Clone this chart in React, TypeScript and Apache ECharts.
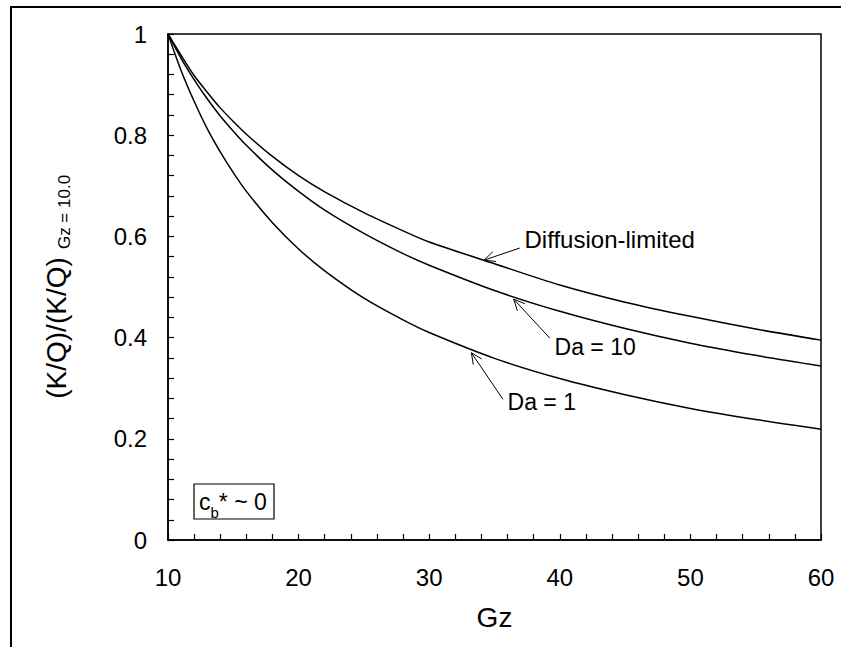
import React, { useEffect, useRef } from "react";
import * as echarts from "echarts";

const gz = [10, 11, 12, 13, 14, 15, 16, 18, 20, 22, 25, 28, 30, 35, 40, 45, 50, 55, 60];
const diffusionLimited = [1.0, 0.958, 0.918, 0.885, 0.854, 0.827, 0.802, 0.758, 0.72, 0.688, 0.647, 0.611, 0.589, 0.546, 0.504, 0.47, 0.442, 0.417, 0.395];
const da10 = [1.0, 0.952, 0.91, 0.872, 0.838, 0.808, 0.78, 0.731, 0.689, 0.652, 0.606, 0.566, 0.543, 0.493, 0.452, 0.418, 0.389, 0.365, 0.344];
const da1 = [1.0, 0.928, 0.867, 0.813, 0.767, 0.726, 0.689, 0.627, 0.575, 0.532, 0.478, 0.435, 0.41, 0.359, 0.319, 0.287, 0.26, 0.238, 0.219];

const xTickValues = [10, 20, 30, 40, 50, 60];
const yTickValues = [0, 0.2, 0.4, 0.6, 0.8, 1];

const annotationTexts = ["Diffusion-limited", "Da = 10", "Da = 1"];
const annotationFontSizes = [24, 23, 23];
const annotationTips = [[34.2, 0.553], [36.47, 0.476], [33.23, 0.37]];
const annotationTails = [[36.93, 0.577], [39.23, 0.399], [35.65, 0.278]];
const annotationLabels = [[37.3, 0.593], [39.6, 0.381], [36.0, 0.273]];

const xTitle = "Gz";
const yTitleMain = "(K/Q)/(K/Q)";
const yTitleSub = "Gz = 10.0";

const FONT = "Liberation Sans, Arial, sans-serif";

export default function App() {
  const ref = useRef<HTMLDivElement>(null);
  useEffect(() => {
    if (!ref.current) return;
    const chart = echarts.init(ref.current, null, { renderer: "svg" });
    const mk = (ys: number[]) => gz.map((x, i) => [x, ys[i]]);
    const lineSeries = (name: string, ys: number[]) => ({
      name,
      type: "line",
      data: mk(ys),
      showSymbol: false,
      smooth: 0.3,
      lineStyle: { color: "#000", width: 1.5 },
      itemStyle: { color: "#000" },
      silent: true,
    });
    chart.setOption({
      animation: false,
      backgroundColor: "#fff",
      textStyle: { fontFamily: FONT },
      grid: { left: 168, right: 20, top: 34, bottom: 107, show: true, borderColor: "#000", borderWidth: 1.5, backgroundColor: "transparent" },
      xAxis: {
        type: "value",
        min: 10,
        max: 60,
        interval: 10,
        axisLine: { show: true, lineStyle: { color: "#000", width: 1.5 } },
        axisTick: { show: true, inside: true, length: 6, lineStyle: { color: "#000", width: 1.2 } },
        minorTick: { show: true, splitNumber: 5, length: 6, lineStyle: { color: "#000", width: 1.2 } },
        splitLine: { show: false },
        axisLabel: {
          color: "#000",
          fontSize: 24,
          fontFamily: FONT,
          margin: 25,
          formatter: (v: number) => (xTickValues.includes(v) ? String(v) : ""),
        },
      },
      yAxis: {
        type: "value",
        min: 0,
        max: 1,
        interval: 0.2,
        axisLine: { show: true, lineStyle: { color: "#000", width: 1.5 } },
        axisTick: { show: true, inside: true, length: 6, lineStyle: { color: "#000", width: 1.2 } },
        minorTick: { show: true, splitNumber: 5, length: 6, lineStyle: { color: "#000", width: 1.2 } },
        splitLine: { show: false },
        axisLabel: {
          color: "#000",
          fontSize: 24,
          fontFamily: FONT,
          margin: 21,
          formatter: (v: number) => {
            const t = yTickValues.find((y) => Math.abs(y - v) < 1e-9);
            return t === undefined ? "" : String(t);
          },
        },
      },
      series: [
        lineSeries("Diffusion-limited", diffusionLimited),
        lineSeries("Da = 10", da10),
        lineSeries("Da = 1", da1),
      ],
    });

    const graphics: any[] = [];
    graphics.push({
      type: "rect",
      shape: { x: 11, y: 7, width: 1000, height: 1000 },
      style: { fill: "none", stroke: "#000", lineWidth: 2 },
      silent: true,
    });
    graphics.push({
      type: "rect",
      shape: { x: 194, y: 484, width: 80, height: 35 },
      style: { fill: "#fff", stroke: "#000", lineWidth: 1.2 },
      z: 10,
    });
    graphics.push({
      type: "text",
      x: 199,
      y: 502,
      z: 11,
      style: {
        text: "{a|c}{b|b}{a|* ~ 0}",
        verticalAlign: "middle",
        align: "left",
        rich: {
          a: { fontSize: 23, fontFamily: FONT, fill: "#000" },
          b: { fontSize: 15, fontFamily: FONT, fill: "#000", verticalAlign: "bottom", padding: [0, 0, -6, 0] },
        },
      },
    });
    graphics.push({
      type: "text",
      x: 494.5,
      y: 617,
      style: { text: xTitle, fontSize: 28, fontFamily: FONT, fill: "#000", align: "center", verticalAlign: "middle" },
    });
    graphics.push({
      type: "text",
      x: 56,
      y: 328,
      rotation: Math.PI / 2,
      style: { text: yTitleMain, fontSize: 28, fontFamily: FONT, fill: "#000", align: "center", verticalAlign: "middle" },
    });
    graphics.push({
      type: "text",
      x: 64,
      y: 212,
      rotation: Math.PI / 2,
      style: { text: yTitleSub, fontSize: 17, fontFamily: FONT, fill: "#000", align: "center", verticalAlign: "middle" },
    });

    annotationTexts.forEach((txt, i) => {
      const tip = chart.convertToPixel({ gridIndex: 0 }, annotationTips[i]) as number[];
      const tail = chart.convertToPixel({ gridIndex: 0 }, annotationTails[i]) as number[];
      const lab = chart.convertToPixel({ gridIndex: 0 }, annotationLabels[i]) as number[];
      const dx = tail[0] - tip[0];
      const dy = tail[1] - tip[1];
      const len = Math.hypot(dx, dy);
      const ux = dx / len;
      const uy = dy / len;
      const hl = 12;
      const ang = (25 * Math.PI) / 180;
      const rot = (a: number) => [tip[0] + hl * (ux * Math.cos(a) - uy * Math.sin(a)), tip[1] + hl * (ux * Math.sin(a) + uy * Math.cos(a))];
      graphics.push({
        type: "line",
        shape: { x1: tail[0], y1: tail[1], x2: tip[0], y2: tip[1] },
        style: { stroke: "#000", lineWidth: 1 },
      });
      graphics.push({
        type: "polyline",
        shape: { points: [rot(ang), tip, rot(-ang)] },
        style: { stroke: "#000", lineWidth: 1, fill: "none" },
      });
      graphics.push({
        type: "text",
        x: lab[0],
        y: lab[1],
        style: { text: txt, fontSize: annotationFontSizes[i], fontFamily: FONT, fill: "#000", align: "left", verticalAlign: "middle" },
      });
    });

    chart.setOption({ graphic: graphics });
    return () => chart.dispose();
  }, []);
  return <div ref={ref} style={{ position: "fixed", left: 0, top: 0, width: 841, height: 647 }} />;
}
